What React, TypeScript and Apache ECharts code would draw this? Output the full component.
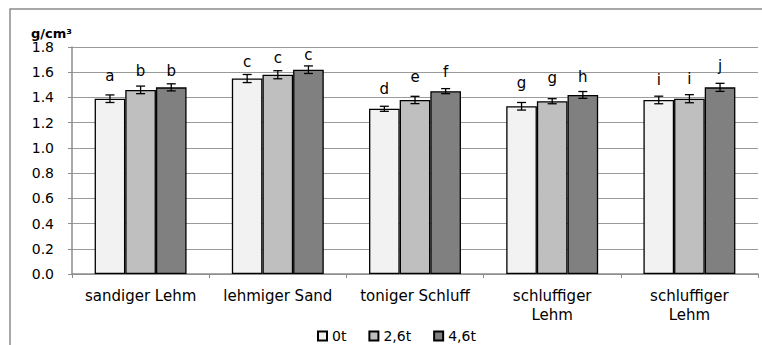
import React, { useEffect, useRef } from "react";
import * as echarts from "echarts";

const categories = ["sandiger Lehm", "lehmiger Sand", "toniger Schluff", "schluffiger Lehm", "schluffiger Lehm"];
const seriesNames = ["0t", "2,6t", "4,6t"];
const values0t = [1.39, 1.55, 1.31, 1.33, 1.38];
const values26t = [1.46, 1.58, 1.38, 1.37, 1.39];
const values46t = [1.48, 1.62, 1.45, 1.42, 1.48];
const err0t = [0.03, 0.032, 0.02, 0.03, 0.03];
const err26t = [0.03, 0.032, 0.029, 0.02, 0.032];
const err46t = [0.028, 0.03, 0.02, 0.027, 0.032];
const letters0t = ["a", "c", "d", "g", "i"];
const letters26t = ["b", "c", "e", "g", "i"];
const letters46t = ["b", "c", "f", "h", "j"];
const yTicks = [0, 0.2, 0.4, 0.6, 0.8, 1.0, 1.2, 1.4, 1.6, 1.8];

// label lift above bar tops (layout only)
const lift0t = [15, 9, 12, 16, 12];
const lift26t = [11, 9, 15, 16, 12];
const lift46t = [9, 7, 12, 10, 14];

const FONT = "DejaVu Sans";
const colors = ["#f2f2f2", "#bfbfbf", "#808080"];
const CAT_GAP = 0.33;

export default function App() {
  const ref = useRef<HTMLDivElement>(null);
  useEffect(() => {
    if (!ref.current) return;
    const chart = echarts.init(ref.current, null, { renderer: "svg" });
    const vals = [values0t, values26t, values46t];
    const errs = [err0t, err26t, err46t];
    const lets = [letters0t, letters26t, letters46t];
    const lifts = [lift0t, lift26t, lift46t];

    const barSeries = vals.map((v, k) => ({
      type: "bar",
      name: seriesNames[k],
      barGap: "0%",
      barCategoryGap: CAT_GAP * 100 + "%",
      itemStyle: { color: colors[k], borderColor: "#000", borderWidth: 1.3 },
      data: v.map((val, i) => ({
        value: val,
        label: {
          show: true,
          position: "top",
          distance: lifts[k][i],
          formatter: () => lets[k][i],
          fontFamily: FONT,
          fontSize: 15,
          lineHeight: 15,
          color: "#000",
        },
      })),
      z: 2,
    }));

    const errSeries = vals.map((v, k) => ({
      type: "custom",
      name: "err" + k,
      z: 5,
      data: v.map((val, i) => [i, val, errs[k][i]]),
      encode: { x: 0, y: 1 },
      renderItem: (params: any, api: any) => {
        const ci = api.value(0);
        const val = api.value(1);
        const e = api.value(2);
        const band = api.size([1, 0])[0];
        const bw = (band * (1 - CAT_GAP)) / 3;
        const c = api.coord([ci, val]);
        const x = c[0] + (k - 1) * bw;
        const yTop = api.coord([ci, val + e])[1];
        const yBot = api.coord([ci, val - e])[1];
        const hw = 4.5;
        const style = { stroke: "#000", lineWidth: 1.3 };
        return {
          type: "group",
          children: [
            { type: "line", shape: { x1: x, y1: yTop, x2: x, y2: yBot }, style },
            { type: "line", shape: { x1: x - hw, y1: yTop, x2: x + hw, y2: yTop }, style },
            { type: "line", shape: { x1: x - hw, y1: yBot, x2: x + hw, y2: yBot }, style },
          ],
        };
      },
    }));

    chart.setOption({
      animation: false,
      textStyle: { fontFamily: FONT },
      graphic: [
        {
          type: "rect",
          shape: { x: 10, y: 9, width: 800, height: 400 },
          style: { fill: "none", stroke: "#8c8c8c", lineWidth: 1.5 },
          silent: true,
        },
      ],
      grid: { left: 72, right: 4, top: 47, bottom: 71 },
      legend: {
        data: seriesNames,
        left: 312,
        top: 324,
        icon: "rect",
        itemWidth: 9,
        itemHeight: 9,
        itemGap: 22,
        textStyle: { fontFamily: FONT, fontSize: 14, color: "#000" },
      },
      xAxis: {
        type: "category",
        data: categories,
        axisLine: { lineStyle: { color: "#8c8c8c", width: 1.5 } },
        axisTick: { show: true, length: 4, interval: 0, lineStyle: { color: "#8c8c8c" } },
        axisLabel: {
          interval: 0,
          margin: 12,
          fontFamily: FONT,
          fontSize: 15,
          lineHeight: 19,
          color: "#000",
          formatter: (v: string) => (v === "schluffiger Lehm" ? "schluffiger\nLehm" : v),
        },
      },
      yAxis: {
        type: "value",
        min: yTicks[0],
        max: yTicks[yTicks.length - 1],
        interval: 0.2,
        name: "g/cm³",
        nameLocation: "end",
        nameGap: 14,
        nameTextStyle: {
          fontFamily: FONT,
          fontSize: 13,
          fontWeight: "bold",
          color: "#000",
          align: "right",
          verticalAlign: "middle",
        },
        axisLine: { show: true, lineStyle: { color: "#8c8c8c", width: 1.5 } },
        axisTick: { show: true, length: 4, lineStyle: { color: "#8c8c8c" } },
        axisLabel: {
          margin: 18,
          fontFamily: FONT,
          fontSize: 14,
          color: "#000",
          formatter: (v: number) => v.toFixed(1),
        },
        splitLine: { lineStyle: { color: "#9a9a9a", width: 1.2 } },
      },
      series: [...barSeries, ...errSeries],
    });
    return () => chart.dispose();
  }, []);
  return (
    <div
      ref={ref}
      style={{ width: 762, height: 345, position: "absolute", left: 0, top: 0, background: "#fff" }}
    />
  );
}
